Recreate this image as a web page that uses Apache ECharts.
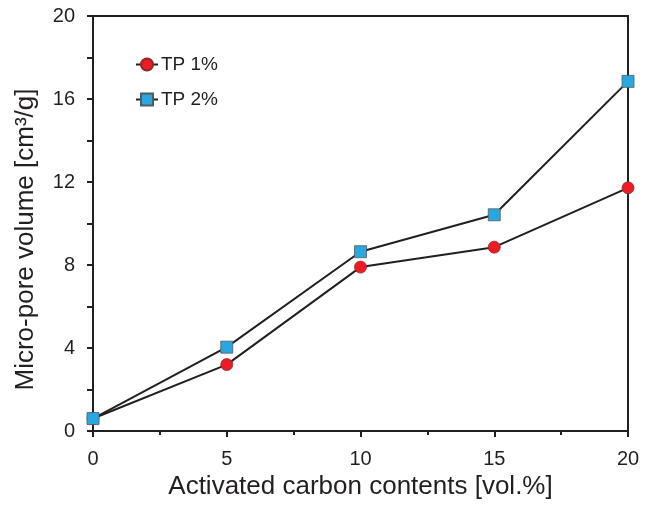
<!DOCTYPE html>
<html><head><meta charset="utf-8">
<script src="https://cdn.jsdelivr.net/npm/echarts@6/dist/echarts.min.js"></script>
<style>html,body{margin:0;padding:0;background:#fff}#c{width:652px;height:505px}</style>
</head><body><div id="c"></div>
<script>
const xValues = [0, 5, 10, 15, 20];
const tp1 = [0.6, 3.2, 7.9, 8.86, 11.72];
const tp2 = [0.6, 4.04, 8.64, 10.42, 16.85];
const seriesNames = ['TP 1%', 'TP 2%'];
const xTitle = 'Activated carbon contents [vol.%]';
const yTitle = 'Micro-pore volume [cm³/g]';

const ink = '#231f20';
const font = 'Liberation Sans, Arial, sans-serif';
const chart = echarts.init(document.getElementById('c'));
chart.setOption({
  animation: false,
  backgroundColor: '#fff',
  grid: { left: 93, right: 24, top: 16, bottom: 73, show: true, borderColor: ink, borderWidth: 2, backgroundColor: 'transparent' },
  legend: {
    left: 130, top: 50, orient: 'vertical', itemGap: 16, itemWidth: 22, itemHeight: 15,
    textStyle: { fontFamily: font, fontSize: 19, color: ink, padding: [0,0,0,-2] },
    data: seriesNames
  },
  xAxis: {
    type: 'value', min: 0, max: 20, interval: 5,
    name: xTitle, nameLocation: 'middle', nameGap: 43,
    nameTextStyle: { fontFamily: font, fontSize: 26, color: ink },
    axisLine: { lineStyle: { color: ink, width: 2 } },
    axisTick: { show: true, length: 6, lineStyle: { color: ink, width: 2 } },
    minorTick: { show: true, splitNumber: 2, length: 4, lineStyle: { color: ink, width: 2 } },
    axisLabel: { fontFamily: font, fontSize: 20, color: ink, margin: 18 },
    splitLine: { show: false }
  },
  yAxis: {
    type: 'value', min: 0, max: 20, interval: 4,
    name: yTitle, nameLocation: 'middle', nameGap: 54,
    nameTextStyle: { fontFamily: font, fontSize: 26, color: ink, padding: [0, 32, 0, 0] },
    axisLine: { lineStyle: { color: ink, width: 2 } },
    axisTick: { show: true, length: 6, lineStyle: { color: ink, width: 2 } },
    minorTick: { show: true, splitNumber: 2, length: 6, lineStyle: { color: ink, width: 2 } },
    axisLabel: { fontFamily: font, fontSize: 20, color: ink, margin: 18 },
    splitLine: { show: false }
  },
  series: [
    {
      name: seriesNames[0], type: 'line',
      data: xValues.map((x, i) => [x, tp1[i]]),
      symbol: 'circle', symbolSize: 12,
      lineStyle: { color: ink, width: 2 },
      itemStyle: { color: '#ed1c24', borderColor: '#8a2a2a', borderWidth: 0.8 },
      z: 3
    },
    {
      name: seriesNames[1], type: 'line',
      data: xValues.map((x, i) => [x, tp2[i]]),
      symbol: 'rect', symbolSize: 12,
      lineStyle: { color: ink, width: 2 },
      itemStyle: { color: '#29a8e0', borderColor: '#505a60', borderWidth: 0.8 },
      z: 4
    }
  ]
});
</script></body></html>
